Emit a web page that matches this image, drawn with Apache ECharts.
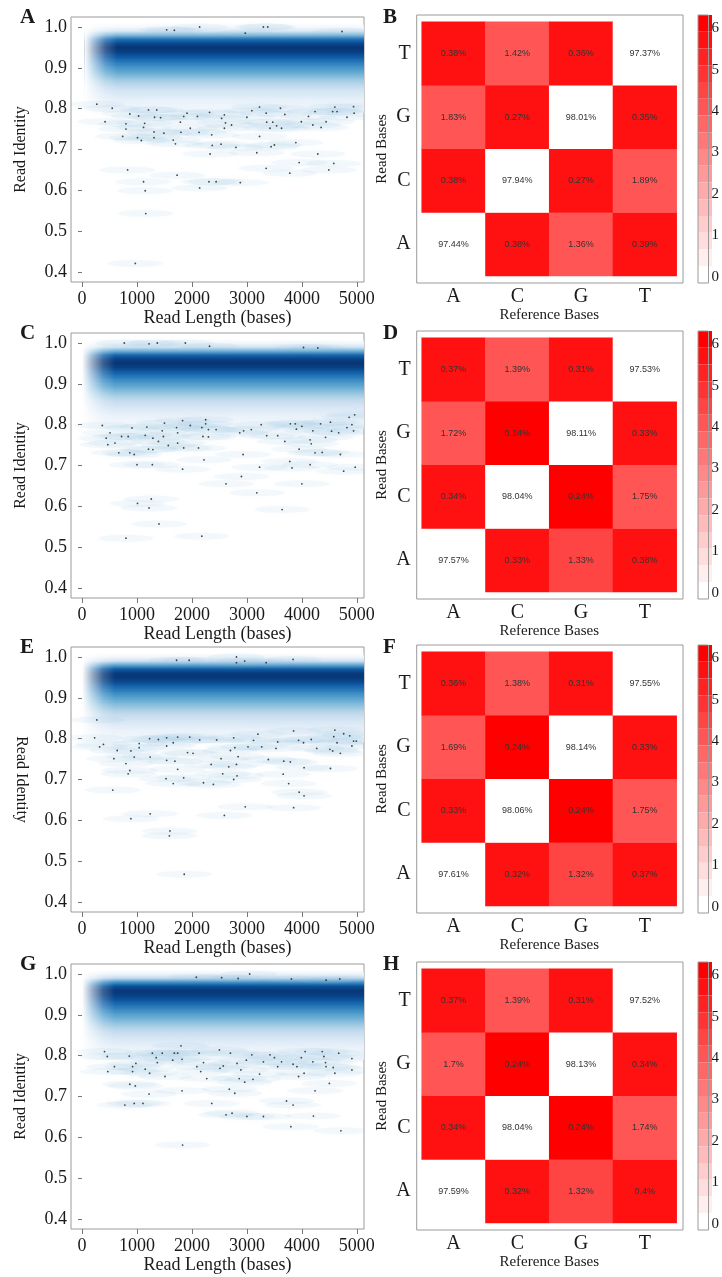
<!DOCTYPE html>
<html>
<head>
<meta charset="utf-8">
<script src="https://cdn.jsdelivr.net/npm/echarts@6/dist/echarts.min.js"></script>
<style>
  html, body { margin: 0; padding: 0; background: #fff; }
  #chart { width: 722px; height: 1277px; }
</style>
</head>
<body>
<div id="chart"></div>
<script>
  // axis categories and ticks
  var bases = ['A', 'C', 'G', 'T'];
  var lengthTicks = [0, 1000, 2000, 3000, 4000, 5000];
  var identityTicks = [0.4, 0.5, 0.6, 0.7, 0.8, 0.9, 1.0];
  var keyTicks = [0, 1, 2, 3, 4, 5, 6];

  // main density band: relative density at each identity level
  var identityLevels = [1.00, 0.99, 0.98, 0.97, 0.96, 0.95, 0.94, 0.93, 0.92, 0.91, 0.90,
                        0.89, 0.88, 0.87, 0.86, 0.85, 0.84, 0.83, 0.82, 0.81, 0.80];
  var bandA = [0.04, 0.15, 0.45, 0.75, 0.90, 0.98, 0.95, 0.87, 0.78, 0.69, 0.61, 0.53, 0.45, 0.37, 0.29, 0.22, 0.16, 0.12, 0.09, 0.07, 0.05];
  var bandC = [0.05, 0.18, 0.50, 0.80, 0.94, 0.98, 0.93, 0.84, 0.75, 0.66, 0.58, 0.50, 0.42, 0.34, 0.26, 0.20, 0.15, 0.11, 0.08, 0.06, 0.05];
  var bandE = [0.05, 0.20, 0.55, 0.84, 0.96, 0.97, 0.91, 0.82, 0.73, 0.64, 0.56, 0.48, 0.41, 0.33, 0.26, 0.20, 0.15, 0.11, 0.08, 0.06, 0.05];
  var bandG = [0.07, 0.25, 0.62, 0.88, 0.97, 0.95, 0.89, 0.81, 0.72, 0.64, 0.56, 0.48, 0.41, 0.33, 0.26, 0.20, 0.15, 0.11, 0.08, 0.06, 0.05];
  // read length where the band starts on the left
  var bandEdge = [40, 0, 0, 0];

  // low-density reads shown as dots [length, identity]
  var pointsA = [[1540,0.993],[1680,0.992],[2140,1.0],[2970,0.985],[3300,1.0],[3380,1.0],[4730,0.989],
    [270,0.811],[550,0.801],[420,0.768],[870,0.787],[1030,0.782],[800,0.763],[800,0.75],[740,0.732],[1010,0.729],[1080,0.722],[1120,0.754],[1140,0.764],[1210,0.797],[1320,0.779],[1360,0.797],[1430,0.778],[1310,0.743],[1310,0.729],[1490,0.74],[1660,0.723],[1700,0.714],[1730,0.637],[1790,0.767],[1800,0.742],[1850,0.781],[1910,0.789],[1970,0.752],[2100,0.781],[2130,0.742],[2320,0.791],[2360,0.736],[2370,0.71],[2330,0.689],[2530,0.713],[2540,0.776],[2590,0.785],[2610,0.765],[2590,0.752],[2720,0.76],[2800,0.705],[2880,0.619],[3000,0.779],[3090,0.795],[3230,0.804],[3230,0.732],[3350,0.789],[3360,0.767],[3420,0.752],[3470,0.767],[3440,0.707],[3500,0.711],[3540,0.758],[3610,0.801],[3630,0.752],[3690,0.786],[3180,0.692],[3350,0.654],[3780,0.642],[3890,0.717],[3950,0.668],[4120,0.781],[3990,0.768],[4200,0.76],[4240,0.793],[4290,0.689],[4350,0.754],[4440,0.768],[4490,0.65],[4560,0.793],[4580,0.666],[4600,0.804],[4640,0.793],[4820,0.779],[4940,0.805],[4950,0.789],[830,0.65],[1120,0.621],[1150,0.599],[2310,0.621],[2140,0.606],[1160,0.543],[970,0.421],[2440,0.621]];
  var pointsC = [[770,1.0],[1220,0.998],[1370,1.0],[1880,1.0],[2320,0.992],[4030,0.989],[4290,0.988],
    [370,0.798],[510,0.78],[440,0.767],[470,0.751],[600,0.755],[670,0.731],[720,0.771],[840,0.771],[910,0.792],[870,0.731],[950,0.727],[1000,0.702],[1150,0.774],[1180,0.794],[1210,0.74],[1290,0.739],[1280,0.702],[1290,0.767],[1390,0.759],[1460,0.785],[1480,0.771],[1500,0.804],[1570,0.749],[1720,0.793],[1740,0.78],[1740,0.755],[1830,0.81],[1850,0.743],[1830,0.691],[1970,0.798],[2120,0.743],[2180,0.793],[2250,0.812],[2250,0.802],[2300,0.788],[2440,0.788],[2200,0.771],[2300,0.77],[2220,0.714],[2870,0.78],[2940,0.785],[3080,0.788],[3260,0.8],[2930,0.727],[2900,0.673],[2620,0.655],[3230,0.696],[3360,0.773],[3560,0.773],[3690,0.759],[3180,0.633],[3640,0.592],[3790,0.802],[3880,0.802],[3900,0.789],[4000,0.796],[3950,0.74],[3780,0.71],[3820,0.694],[4000,0.655],[4150,0.763],[4170,0.753],[4150,0.702],[4200,0.785],[4240,0.731],[4370,0.732],[4340,0.802],[4430,0.769],[4520,0.806],[4540,0.784],[4670,0.78],[4700,0.727],[4760,0.686],[4820,0.793],[4860,0.818],[4910,0.8],[4960,0.824],[4940,0.785],[4970,0.696],[1010,0.607],[1220,0.596],[1260,0.618],[1400,0.557],[800,0.522],[2180,0.527]];
  var pointsE = [[1720,0.992],[1950,0.992],[2810,1.0],[2810,0.986],[2960,0.99],[3350,0.986],[3840,0.994],
    [270,0.846],[230,0.802],[320,0.78],[390,0.786],[640,0.771],[580,0.751],[800,0.739],[890,0.77],[950,0.755],[840,0.714],[870,0.722],[1040,0.788],[1040,0.778],[1230,0.8],[1240,0.755],[1390,0.798],[1540,0.802],[1540,0.782],[1540,0.747],[1530,0.702],[1660,0.69],[1660,0.79],[1740,0.804],[1690,0.745],[1740,0.725],[1850,0.704],[1920,0.766],[1960,0.804],[2020,0.764],[2140,0.797],[2210,0.692],[2390,0.688],[2350,0.737],[2450,0.797],[2530,0.751],[2560,0.714],[2670,0.731],[2700,0.771],[2760,0.802],[2780,0.778],[2810,0.737],[2840,0.756],[2760,0.7],[2820,0.709],[3020,0.78],[3120,0.796],[3270,0.78],[3200,0.811],[3390,0.749],[3530,0.776],[3560,0.792],[3670,0.745],[3790,0.743],[3660,0.713],[3760,0.69],[3850,0.819],[3940,0.796],[3950,0.669],[4040,0.66],[4040,0.729],[4030,0.79],[4170,0.798],[4270,0.776],[4510,0.774],[4520,0.727],[4560,0.77],[4580,0.805],[4600,0.821],[4640,0.79],[4700,0.764],[4760,0.812],[4870,0.807],[4910,0.782],[4940,0.794],[4990,0.794],[2970,0.633],[3850,0.631],[2590,0.612],[1240,0.616],[890,0.604],[560,0.674],[1600,0.574],[1590,0.562],[1860,0.468]];
  var pointsG = [[2080,0.992],[2540,0.991],[2840,0.989],[3050,1.0],[3810,0.988],[4440,0.985],[4690,0.988],
    [410,0.81],[460,0.798],[470,0.761],[590,0.773],[860,0.799],[920,0.773],[920,0.761],[980,0.781],[870,0.73],[970,0.726],[1150,0.767],[1230,0.757],[1280,0.806],[1350,0.795],[1370,0.783],[1460,0.806],[1510,0.749],[1220,0.706],[1650,0.789],[1680,0.806],[1740,0.806],[1800,0.824],[1820,0.791],[1820,0.714],[2090,0.773],[2130,0.806],[2160,0.761],[2210,0.783],[2270,0.744],[2500,0.814],[2510,0.769],[2570,0.775],[2700,0.806],[2680,0.718],[2780,0.708],[2820,0.781],[2890,0.765],[2860,0.744],[2960,0.735],[2990,0.789],[3090,0.802],[3110,0.742],[3230,0.755],[3300,0.785],[3420,0.802],[3500,0.795],[3560,0.773],[3630,0.785],[3840,0.779],[3910,0.773],[3940,0.749],[3990,0.795],[4040,0.757],[4060,0.81],[4200,0.785],[4370,0.81],[4400,0.798],[4430,0.783],[4440,0.773],[4570,0.771],[4600,0.757],[4500,0.732],[4670,0.806],[4910,0.793],[4910,0.765],[4240,0.714],[3720,0.689],[3840,0.679],[4210,0.652],[3800,0.626],[4710,0.616],[780,0.679],[950,0.683],[1110,0.683],[2360,0.683],[2620,0.655],[2730,0.659],[3000,0.651],[3300,0.651],[1830,0.581]];

  // substitution matrices in percent: rows = read base A,C,G,T ; columns = reference base A,C,G,T
  var matrixB = [[97.44, 0.38, 1.36, 0.39], [0.38, 97.94, 0.27, 1.89], [1.83, 0.27, 98.01, 0.35], [0.38, 1.42, 0.36, 97.37]];
  var matrixD = [[97.57, 0.33, 1.33, 0.38], [0.34, 98.04, 0.24, 1.75], [1.72, 0.24, 98.11, 0.33], [0.37, 1.39, 0.31, 97.53]];
  var matrixF = [[97.61, 0.32, 1.32, 0.37], [0.33, 98.06, 0.24, 1.75], [1.69, 0.24, 98.14, 0.33], [0.36, 1.38, 0.31, 97.55]];
  var matrixH = [[97.59, 0.32, 1.32, 0.4], [0.34, 98.04, 0.24, 1.74], [1.7, 0.24, 98.13, 0.34], [0.37, 1.39, 0.31, 97.52]];

  var serif = "'Liberation Serif', 'Times New Roman', serif";
  var sans = "'Liberation Sans', Arial, sans-serif";
  var ink = '#1a1a1a';
  var frame = '#9a9a9a';
  var lengthMin = -200, lengthMax = 5130;
  var identityMin = 0.3755, identityMax = 1.0245;
  var keyMin = -0.15, keyMax = 6.32;
  var levelStep = 0.01;
  var fadeLength = 600;

  var panels = [
    { left: 'A', right: 'B', band: bandA, points: pointsA, matrix: matrixB, top: 0, flip: false },
    { left: 'C', right: 'D', band: bandC, points: pointsC, matrix: matrixD, top: 316, flip: false },
    { left: 'E', right: 'F', band: bandE, points: pointsE, matrix: matrixF, top: 630, flip: true },
    { left: 'G', right: 'H', band: bandG, points: pointsG, matrix: matrixH, top: 947, flip: false }
  ];

  // each level fades in from the level above, so neighbouring levels blend smoothly
  function renderBand(params, api) {
    var id = api.value(0);
    var p0 = api.coord([api.value(2), id + levelStep]);
    var p1 = api.coord([lengthMax, id - levelStep]);
    var c = api.visual('color');
    return {
      type: 'rect',
      shape: { x: p0[0], y: p0[1], width: p1[0] - p0[0], height: p1[1] - p0[1] },
      style: {
        fill: new echarts.graphic.LinearGradient(0, 0, 0, 1, [
          { offset: 0, color: echarts.color.modifyAlpha(c, 0) },
          { offset: 0.5, color: c },
          { offset: 1, color: c }
        ])
      }
    };
  }

  // soft left end of the band
  function renderFade(params, api) {
    var p0 = api.coord([api.value(0), 1.015]);
    var p1 = api.coord([api.value(0) + fadeLength, 0.785]);
    return {
      type: 'rect',
      shape: { x: p0[0], y: p0[1], width: p1[0] - p0[0], height: p1[1] - p0[1] },
      style: {
        fill: new echarts.graphic.LinearGradient(0, 0, 1, 0, [
          { offset: 0, color: 'rgba(255,255,255,1)' },
          { offset: 0.3, color: 'rgba(255,255,255,0.6)' },
          { offset: 0.65, color: 'rgba(255,255,255,0.2)' },
          { offset: 1, color: 'rgba(255,255,255,0)' }
        ])
      }
    };
  }

  // faint horizontal smear around each low-density read
  function renderSmear(params, api) {
    var p = api.coord([api.value(0), api.value(1)]);
    return {
      type: 'ellipse',
      shape: { cx: p[0], cy: p[1], rx: 28, ry: 3.5 },
      style: { fill: 'rgba(150,192,224,0.10)', shadowBlur: 6, shadowColor: 'rgba(150,192,224,0.3)' }
    };
  }

  var grid = [], xAxis = [], yAxis = [], series = [], visualMap = [], title = [];
  var bandSeries = [];

  panels.forEach(function (p, r) {
    var o = p.top;
    var g = grid.length;

    // density scatter panel
    grid.push({ left: 71, top: 17 + o, width: 293, height: 265, show: true, borderColor: frame, borderWidth: 1 });
    // heatmap cells
    grid.push({ left: 421.7, top: 21.7 + o, width: 255, height: 254.3 });
    // heatmap frame
    grid.push({ left: 416.7, top: 15 + o, width: 266.3, height: 268, show: true, borderColor: frame, borderWidth: 1, z: 1 });
    // colour key frame
    grid.push({ left: 698, top: 15 + o, width: 14, height: 268, show: true, borderColor: frame, borderWidth: 1, z: 10 });

    var dx = xAxis.length, dy = yAxis.length;
    xAxis.push({
      gridIndex: g, type: 'value', min: lengthMin, max: lengthMax,
      axisLine: { show: false },
      axisTick: { length: 5, lineStyle: { color: '#777' }, customValues: lengthTicks },
      axisLabel: {
        customValues: lengthTicks, fontFamily: serif, fontSize: 18, color: ink, margin: 8,
        formatter: function (v) { return String(v); }
      },
      splitLine: { show: false },
      name: 'Read Length (bases)', nameLocation: 'middle', nameGap: 25,
      nameTextStyle: { fontFamily: serif, fontSize: 18, color: ink }
    });
    yAxis.push({
      gridIndex: g, type: 'value', min: identityMin, max: identityMax,
      axisLine: { show: false },
      axisTick: { length: 4, lineStyle: { color: '#777' }, customValues: identityTicks },
      axisLabel: {
        customValues: identityTicks, fontFamily: serif, fontSize: 18, color: ink, margin: 4,
        formatter: function (v) { return v.toFixed(1); }
      },
      splitLine: { show: false },
      name: 'Read Identity', nameLocation: 'middle', nameGap: 42, nameRotate: p.flip ? -90 : 90,
      nameTextStyle: { fontFamily: serif, fontSize: 16, color: ink }
    });

    var hx = xAxis.length, hy = yAxis.length;
    var tick = { alignWithLabel: true, length: 4, lineStyle: { color: '#888' } };
    xAxis.push({
      gridIndex: g + 1, type: 'category', data: bases, position: 'bottom', offset: 7,
      axisLine: { show: false }, axisTick: { alignWithLabel: true, length: 3, lineStyle: { color: '#888' } },
      axisLabel: { fontFamily: serif, fontSize: 20, color: ink, margin: 4 },
      name: 'Reference Bases', nameLocation: 'middle', nameGap: 22,
      nameTextStyle: { fontFamily: serif, fontSize: 15, color: ink }
    });
    xAxis.push({
      gridIndex: g + 1, type: 'category', data: bases, position: 'top', offset: 6.7,
      axisLine: { show: false }, axisTick: tick, axisLabel: { show: false }
    });
    yAxis.push({
      gridIndex: g + 1, type: 'category', data: bases, position: 'left', offset: 5,
      axisLine: { show: false }, axisTick: tick,
      axisLabel: { fontFamily: serif, fontSize: 20, color: ink, margin: 6 },
      name: 'Read Bases', nameLocation: 'middle', nameGap: 27,
      nameTextStyle: { fontFamily: serif, fontSize: 15, color: ink }
    });
    yAxis.push({
      gridIndex: g + 1, type: 'category', data: bases, position: 'right', offset: 6.3,
      axisLine: { show: false }, axisTick: tick, axisLabel: { show: false }
    });

    // hidden axes for the frame grids
    xAxis.push({ gridIndex: g + 2, type: 'value', show: false });
    yAxis.push({ gridIndex: g + 2, type: 'value', show: false });
    xAxis.push({ gridIndex: g + 3, type: 'value', show: false });
    yAxis.push({
      gridIndex: g + 3, type: 'value', min: keyMin, max: keyMax, position: 'right',
      axisLine: { show: false },
      axisTick: { length: 4, lineStyle: { color: '#888' }, customValues: keyTicks },
      axisLabel: { customValues: keyTicks, fontFamily: serif, fontSize: 15, color: ink, margin: 3 },
      splitLine: { show: false }
    });

    bandSeries.push(series.length);
    series.push({
      type: 'custom',
      xAxisIndex: dx, yAxisIndex: dy,
      dimensions: ['identity', 'density', 'start'],
      encode: { x: 2, y: 0 },
      renderItem: renderBand,
      clip: true, silent: true, z: 1,
      data: p.band.map(function (v, i) { return [identityLevels[i], v, bandEdge[r]]; })
    });
    series.push({
      type: 'custom',
      xAxisIndex: dx, yAxisIndex: dy,
      dimensions: ['start'],
      encode: { x: 0 },
      renderItem: renderFade,
      clip: true, silent: true, z: 1,
      data: [[bandEdge[r]]]
    });
    series.push({
      type: 'custom',
      xAxisIndex: dx, yAxisIndex: dy,
      renderItem: renderSmear,
      clip: true, silent: true, z: 2,
      data: p.points
    });
    series.push({
      type: 'scatter', xAxisIndex: dx, yAxisIndex: dy,
      symbol: 'circle', symbolSize: 1.8, silent: true, z: 3,
      itemStyle: { color: '#1a1a1a' },
      data: p.points
    });

    var cells = [];
    p.matrix.forEach(function (row, ri) {
      row.forEach(function (pct, ci) {
        cells.push([ci, ri, -Math.log(pct / 100), pct]);
      });
    });
    visualMap.push({
      type: 'piecewise', seriesIndex: series.length, dimension: 2,
      min: keyMin, max: keyMax, splitNumber: 16,
      inRange: { color: ['#ffffff', '#ff0000'] },
      orient: 'vertical', left: 698, top: 15 + o,
      itemWidth: 14, itemHeight: 268 / 16, itemGap: 0, itemSymbol: 'rect',
      showLabel: false, padding: 0, hoverLink: false, selectedMode: false
    });
    series.push({
      type: 'heatmap', xAxisIndex: hx, yAxisIndex: hy,
      data: cells,
      label: {
        show: true, fontFamily: sans, fontSize: 9, color: '#333',
        formatter: function (d) { return d.data[3] + '%'; }
      },
      emphasis: { disabled: true },
      silent: true
    });

    title.push({ text: p.left, left: 20, top: 7 + o, padding: 0,
      textStyle: { fontFamily: serif, fontSize: 21, fontWeight: 'bold', color: ink } });
    title.push({ text: p.right, left: 383, top: 7 + o, padding: 0,
      textStyle: { fontFamily: serif, fontSize: 21, fontWeight: 'bold', color: ink } });
  });

  visualMap.push({
    type: 'continuous', show: false, seriesIndex: bandSeries, dimension: 1,
    min: 0, max: 1,
    inRange: { color: ['#ffffff', '#deebf7', '#c6dbef', '#9ecae1', '#6baed6', '#4292c6', '#2171b5', '#08519c', '#08306b'] }
  });

  var chart = echarts.init(document.getElementById('chart'));
  chart.setOption({
    backgroundColor: '#ffffff',
    animation: false,
    title: title,
    grid: grid,
    xAxis: xAxis,
    yAxis: yAxis,
    visualMap: visualMap,
    series: series
  });
</script>
</body>
</html>
